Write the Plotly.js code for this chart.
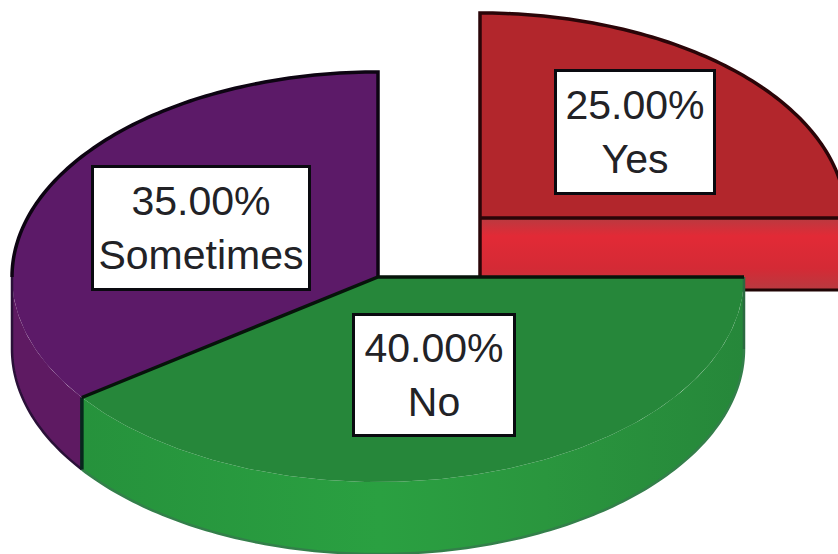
<!DOCTYPE html>
<html>
<head>
<meta charset="utf-8">
<script src="https://cdn.plot.ly/plotly-3.0.1.min.js"></script>
<style>html,body{margin:0;padding:0;background:#fff}#c{width:838px;height:554px}</style>
</head>
<body>
<div id="c"></div>
<script>
var categories = ['Yes', 'No', 'Sometimes'];
var shares = [25, 40, 35];
var topColors = ['#b2262c', '#26873a', '#5c1a68'];
var sideColors = ['#dc2833', '#2a9b40', '#5e1a62'];

var RX = 366, RY = 205, DEPTH = 72;
var CENTER = [378, 277];
var RED_CENTER = [480, 218];
var total = shares.reduce(function (a, b) { return a + b; }, 0);

var starts = [], ends = [], acc = 0;
shares.forEach(function (s) {
  starts.push(acc * 360 / total);
  acc += s;
  ends.push(acc * 360 / total);
});

function arc(c, t0, t1, dy) {
  var xs = [], ys = [];
  var n = Math.max(2, Math.round(Math.abs(t1 - t0)));
  for (var i = 0; i <= n; i++) {
    var t = (t0 + (t1 - t0) * i / n) * Math.PI / 180;
    xs.push(c[0] + RX * Math.sin(t));
    ys.push(c[1] - RY * Math.cos(t) + dy);
  }
  return { x: xs, y: ys };
}
function fillTrace(x, y, color, grad) {
  var t = { type: 'scatter', mode: 'lines', x: x, y: y, fill: 'toself', fillcolor: color,
    line: { width: 0 }, hoverinfo: 'skip', showlegend: false };
  if (grad) t.fillgradient = grad;
  return t;
}
function lineTrace(x, y, color, w) {
  return { type: 'scatter', mode: 'lines', x: x, y: y, line: { color: color, width: w, simplify: false },
    hoverinfo: 'skip', showlegend: false };
}
function wedge(c, i) {
  var a = arc(c, starts[i], ends[i], 0);
  return { x: [c[0]].concat(a.x, [c[0]]), y: [c[1]].concat(a.y, [c[1]]) };
}
function band(c, t0, t1) {
  var a = arc(c, t0, t1, 0), b = arc(c, t1, t0, DEPTH);
  return { x: a.x.concat(b.x, [a.x[0]]), y: a.y.concat(b.y, [a.y[0]]) };
}

var traces = [];

// Sometimes (purple)
var pb = band(CENTER, starts[2], 270);
traces.push(fillTrace(pb.x, pb.y, sideColors[2]));
var pw = wedge(CENTER, 2);
traces.push(fillTrace(pw.x, pw.y, topColors[2]));
var pUpper = arc(CENTER, 270, ends[2], 0);
var pLow = arc(CENTER, starts[2], 270, DEPTH);
traces.push(lineTrace(pLow.x, pLow.y, '#2a1038', 2.5));
traces.push(lineTrace([pUpper.x[0], pUpper.x[0]], [pUpper.y[0], pUpper.y[0] + DEPTH], '#2a1038', 2.5));
traces.push(lineTrace(pUpper.x.concat([CENTER[0]]), pUpper.y.concat([CENTER[1]]), '#0d0412', 3.5));

// Yes (red), pulled out
var rx1 = arc(RED_CENTER, starts[0] + 90, ends[0], 0).x[0];
var rSideX = [RED_CENTER[0], rx1, rx1, RED_CENTER[0], RED_CENTER[0]];
var rSideY = [RED_CENTER[1], RED_CENTER[1], RED_CENTER[1] + DEPTH, RED_CENTER[1] + DEPTH, RED_CENTER[1]];
traces.push(fillTrace(rSideX, rSideY, sideColors[0], {
  type: 'vertical',
  colorscale: [[0, '#b93a40'], [0.3, '#d42a35'], [0.75, '#e22a36'], [1, '#b93a40']]
}));
var rw = wedge(RED_CENTER, 0);
traces.push(fillTrace(rw.x, rw.y, topColors[0]));
traces.push(lineTrace([RED_CENTER[0], rx1], [RED_CENTER[1] + DEPTH, RED_CENTER[1] + DEPTH], '#200505', 3));
traces.push(lineTrace(rw.x, rw.y, '#2a0508', 3.5));
traces.push(lineTrace([RED_CENTER[0], RED_CENTER[0]], [RED_CENTER[1], RED_CENTER[1] + DEPTH], '#2a0508', 3.5));

// No (green)
var gb = band(CENTER, starts[1], ends[1]);
traces.push(fillTrace(gb.x, gb.y, sideColors[1], {
  type: 'horizontal',
  colorscale: [[0, '#26923c'], [0.45, '#2aa041'], [0.7, '#2a963e'], [1, '#26873a']]
}));
var gw = wedge(CENTER, 1);
traces.push(fillTrace(gw.x, gw.y, topColors[1]));
var gLow = arc(CENTER, starts[1], ends[1], DEPTH);
traces.push(lineTrace(gLow.x, gLow.y, '#337f4a', 2.5));
var gRight = arc(CENTER, starts[1], starts[1], 0);
var gLeft = arc(CENTER, ends[1], ends[1], 0);
traces.push(lineTrace([gRight.x[0], gRight.x[0]], [gRight.y[0], gRight.y[0] + DEPTH], '#2b6a40', 2.5));
traces.push(lineTrace([gLeft.x[0], gLeft.x[0]], [gLeft.y[0], gLeft.y[0] + DEPTH], '#07261c', 3.5));
traces.push(lineTrace([gRight.x[0], CENTER[0], gLeft.x[0]], [gRight.y[0], CENTER[1], gLeft.y[0]], '#06140a', 3.5));

// Labels
var labelAnchors = [[635, 132], [434, 375], [201, 228]];
var labelSizes = [[156, 120], [158, 118], [214, 120]];
var annotations = categories.map(function (c, i) {
  return {
    xref: 'x', yref: 'y', x: labelAnchors[i][0], y: labelAnchors[i][1],
    text: shares[i].toFixed(2) + '%<br>' + c, showarrow: false,
    width: labelSizes[i][0], height: labelSizes[i][1],
    align: 'center', valign: 'middle',
    bgcolor: '#ffffff', bordercolor: '#0a0a10', borderwidth: 3, borderpad: 0,
    font: { family: 'Liberation Sans, Arial, sans-serif', size: 41, color: '#222226' }
  };
});

Plotly.newPlot('c', traces, {
  width: 838, height: 554,
  margin: { l: 0, r: 0, t: 0, b: 0 },
  paper_bgcolor: '#ffffff', plot_bgcolor: '#ffffff',
  showlegend: false,
  xaxis: { range: [0, 838], visible: false, fixedrange: true },
  yaxis: { range: [554, 0], visible: false, fixedrange: true },
  annotations: annotations
}, { displayModeBar: false, staticPlot: true });
</script>
</body>
</html>
